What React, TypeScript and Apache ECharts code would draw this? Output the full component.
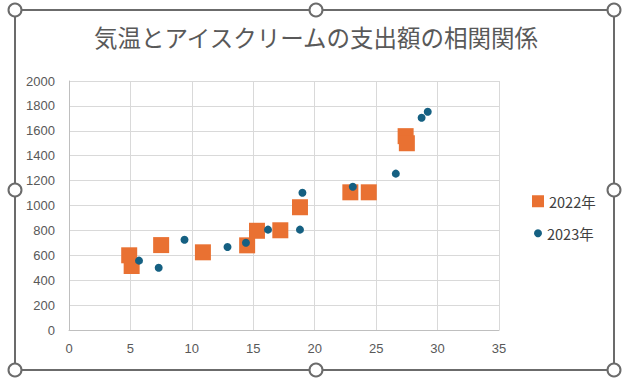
import React, { useEffect, useRef } from "react";
import * as echarts from "echarts";

const titleText = "気温とアイスクリームの支出額の相関関係";
const seriesNames = ["2022年", "2023年"];

const temp2022 = [4.9, 5.1, 7.5, 10.9, 14.5, 15.3, 17.2, 18.8, 22.9, 24.4, 27.4, 27.5];
const spend2022 = [600, 514, 682, 624, 680, 797, 801, 986, 1106, 1106, 1557, 1500];

const temp2023 = [5.7, 7.3, 9.4, 12.9, 14.4, 16.2, 18.8, 19.0, 23.1, 26.6, 28.7, 29.2];
const spend2023 = [557, 500, 725, 667, 701, 806, 806, 1103, 1151, 1256, 1705, 1753];

const xTicks = { min: 0, max: 35, interval: 5 };
const yTicks = { min: 0, max: 2000, interval: 200 };

const handlePoints: [number, number][] = [
  [15, 10], [316, 10], [614, 10],
  [15, 190], [614, 190],
  [15, 370], [316, 370], [614, 370],
];

const NUM_FONT = "'Liberation Sans', Arial, sans-serif";
const JP_FONT = "'Noto Sans CJK JP', 'Noto Sans', sans-serif";

export default function App() {
  const ref = useRef<HTMLDivElement>(null);
  useEffect(() => {
    if (!ref.current) return;
    const chart = echarts.init(ref.current, undefined, { renderer: "svg" });
    const d2022 = temp2022.map((t, i) => [t, spend2022[i]]);
    const d2023 = temp2023.map((t, i) => [t, spend2023[i]]);
    const frameColor = "#6b6b6b";
    chart.setOption({
      animation: false,
      backgroundColor: "#ffffff",
      title: {
        text: titleText,
        left: 316,
        textAlign: "center",
        top: 25,
        padding: 0,
        textStyle: { fontFamily: JP_FONT, fontSize: 23.5, fontWeight: "normal", color: "#595959" },
      },
      legend: [
        {
          data: [seriesNames[0]],
          orient: "vertical",
          left: 532,
          top: 194,
          padding: 0,
          icon: "rect",
          itemWidth: 12,
          itemHeight: 12,
          textStyle: { fontFamily: JP_FONT, fontSize: 14.5, color: "#404040" },
        },
        {
          data: [seriesNames[1]],
          orient: "vertical",
          left: 534,
          top: 226,
          padding: 0,
          icon: "circle",
          itemWidth: 8,
          itemHeight: 8,
          textStyle: { fontFamily: JP_FONT, fontSize: 14.5, color: "#404040" },
        },
      ],
      grid: { left: 69, right: 124, top: 81, bottom: 51, containLabel: false },
      xAxis: {
        type: "value",
        min: xTicks.min,
        max: xTicks.max,
        interval: xTicks.interval,
        axisLine: { show: true, lineStyle: { color: "#bfbfbf", width: 1 } },
        axisTick: { show: false },
        axisLabel: { fontFamily: NUM_FONT, fontSize: 13, color: "#595959", margin: 12 },
        splitLine: { show: true, lineStyle: { color: "#d9d9d9", width: 1 } },
      },
      yAxis: {
        type: "value",
        min: yTicks.min,
        max: yTicks.max,
        interval: yTicks.interval,
        axisLine: { show: true, lineStyle: { color: "#bfbfbf", width: 1 } },
        axisTick: { show: false },
        axisLabel: {
          fontFamily: NUM_FONT,
          fontSize: 13,
          color: "#595959",
          margin: 14,
          formatter: (v: number) => String(v),
        },
        splitLine: { show: true, lineStyle: { color: "#d9d9d9", width: 1 } },
      },
      series: [
        {
          name: seriesNames[0],
          type: "scatter",
          symbol: "rect",
          symbolSize: 16,
          data: d2022,
          itemStyle: { color: "#E97132", opacity: 1 },
        },
        {
          name: seriesNames[1],
          type: "scatter",
          symbol: "circle",
          symbolSize: 8,
          data: d2023,
          itemStyle: { color: "#156082", opacity: 1 },
          z: 3,
        },
      ],
      graphic: [
        {
          type: "rect",
          shape: { x: 15, y: 10, width: 599, height: 360 },
          style: { fill: "none", stroke: frameColor, lineWidth: 2 },
          silent: true,
          z: 100,
        },
        ...handlePoints.map(([x, y]) => ({
          type: "circle",
          shape: { cx: x, cy: y, r: 6.5 },
          style: { fill: "#ffffff", stroke: frameColor, lineWidth: 2 },
          silent: true,
          z: 101,
        })),
      ],
    });
    return () => chart.dispose();
  }, []);
  return (
    <div
      ref={ref}
      style={{ position: "absolute", left: 0, top: 0, width: 623, height: 381, background: "#fff" }}
    />
  );
}
